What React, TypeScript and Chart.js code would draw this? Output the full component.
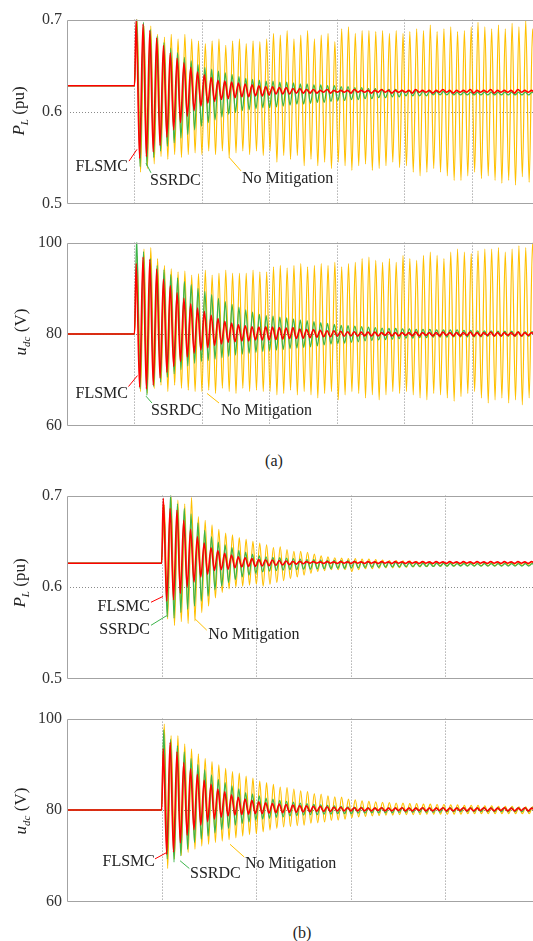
import React, { useEffect, useRef } from "react";
import { Chart, registerables } from "chart.js";

Chart.register(...registerables);

// ---------- time base ----------
const STEP_TIME = 1; // disturbance instant (grid units)
const A_PERIOD = 0.101; // oscillation period, case (a)
const B_PERIOD = 0.0721; // oscillation period, case (b)
const A_X_MAX = 6.904;
const B_X_MAX = 4.926;
const A_GRID_X = [1, 2, 3, 4, 5, 6];
const B_GRID_X = [1, 2, 3, 4];

// phase lag of each response (fraction of one period)
const RED_LAG = 0;
const GREEN_LAG = 0.07;
const YELLOW_LAG = 0.14;

// ---------- axis ticks ----------
const PL_TICKS = [0.5, 0.6, 0.7];
const UDC_TICKS = [60, 80, 100];

// ---------- pre-disturbance values ----------
const A_PL_BEFORE = 0.628;
const B_PL_BEFORE = 0.626;
const UDC_BEFORE = 80;

// ---------- (a) P_L : peaks / troughs of each oscillation cycle ----------
const aPlRedPeaks = [
  0.700, 0.695, 0.688, 0.680, 0.672, 0.664, 0.658, 0.653, 0.648, 0.643,
  0.640, 0.637, 0.634, 0.633, 0.632, 0.631, 0.630, 0.629, 0.628, 0.627,
  0.627, 0.626, 0.626, 0.625, 0.625, 0.624, 0.624, 0.623, 0.624, 0.623,
  0.623, 0.623, 0.624, 0.623, 0.623, 0.623, 0.624, 0.623, 0.623, 0.623,
  0.623, 0.624, 0.623, 0.623, 0.623, 0.624, 0.623, 0.623, 0.623, 0.624,
  0.623, 0.623, 0.624, 0.623, 0.623, 0.623, 0.624, 0.623, 0.623,
];
const aPlRedTroughs = [
  0.549, 0.551, 0.556, 0.563, 0.572, 0.580, 0.588, 0.595, 0.601, 0.606,
  0.609, 0.611, 0.613, 0.614, 0.615, 0.616, 0.616, 0.617, 0.617, 0.618,
  0.619, 0.619, 0.619, 0.620, 0.620, 0.620, 0.620, 0.621, 0.620, 0.621,
  0.621, 0.620, 0.621, 0.621, 0.620, 0.621, 0.621, 0.620, 0.621, 0.621,
  0.620, 0.621, 0.621, 0.620, 0.621, 0.621, 0.620, 0.621, 0.621, 0.620,
  0.621, 0.621, 0.620, 0.621, 0.621, 0.620, 0.621, 0.621, 0.620,
];
const aPlGreenPeaks = [
  0.703, 0.697, 0.689, 0.682, 0.675, 0.669, 0.664, 0.659, 0.655, 0.651,
  0.648, 0.646, 0.644, 0.642, 0.640, 0.638, 0.636, 0.635, 0.634, 0.633,
  0.633, 0.632, 0.632, 0.631, 0.630, 0.630, 0.629, 0.629, 0.628, 0.628,
  0.627, 0.627, 0.626, 0.626, 0.625, 0.625, 0.624, 0.624, 0.624, 0.623,
  0.623, 0.623, 0.622, 0.622, 0.622, 0.622, 0.622, 0.621, 0.621, 0.621,
  0.621, 0.621, 0.621, 0.621, 0.621, 0.621, 0.621, 0.621, 0.621,
];
const aPlGreenTroughs = [
  0.540, 0.541, 0.550, 0.557, 0.562, 0.566, 0.571, 0.575, 0.580, 0.584,
  0.588, 0.591, 0.594, 0.597, 0.599, 0.601, 0.602, 0.603, 0.604, 0.604,
  0.605, 0.606, 0.607, 0.608, 0.608, 0.609, 0.610, 0.610, 0.611, 0.612,
  0.612, 0.613, 0.613, 0.614, 0.614, 0.615, 0.615, 0.616, 0.616, 0.617,
  0.617, 0.617, 0.617, 0.618, 0.618, 0.618, 0.618, 0.618, 0.618, 0.618,
  0.618, 0.618, 0.618, 0.618, 0.618, 0.618, 0.618, 0.618, 0.618,
];
const aPlYellowPeaks = [
  0.700, 0.693, 0.693, 0.684, 0.681, 0.684, 0.679, 0.684, 0.679, 0.677,
  0.674, 0.677, 0.679, 0.672, 0.677, 0.679, 0.674, 0.677, 0.676, 0.679,
  0.685, 0.683, 0.688, 0.679, 0.683, 0.688, 0.679, 0.683, 0.685, 0.676,
  0.690, 0.692, 0.685, 0.688, 0.688, 0.687, 0.688, 0.685, 0.688, 0.685,
  0.687, 0.690, 0.688, 0.694, 0.687, 0.690, 0.692, 0.687, 0.688, 0.692,
  0.697, 0.692, 0.690, 0.694, 0.690, 0.696, 0.692, 0.699, 0.690,
];
const aPlYellowTroughs = [
  0.534, 0.538, 0.543, 0.551, 0.548, 0.553, 0.550, 0.553, 0.555, 0.553,
  0.557, 0.553, 0.557, 0.550, 0.555, 0.557, 0.553, 0.557, 0.552, 0.557,
  0.545, 0.552, 0.548, 0.552, 0.541, 0.548, 0.541, 0.545, 0.538, 0.545,
  0.541, 0.536, 0.541, 0.543, 0.536, 0.538, 0.541, 0.545, 0.539, 0.541,
  0.534, 0.530, 0.534, 0.538, 0.534, 0.530, 0.525, 0.525, 0.530, 0.534,
  0.527, 0.530, 0.525, 0.522, 0.525, 0.520, 0.529, 0.523, 0.527,
];

// ---------- (a) u_dc ----------
const aUdRedPeaks = [
  95.4, 96.8, 96.3, 94.2, 92.0, 90.6, 89.0, 87.8, 86.6, 85.7,
  84.9, 84.1, 83.4, 82.8, 82.4, 82.0, 81.8, 81.6, 81.5, 81.6,
  81.5, 81.4, 81.3, 81.4, 81.1, 81.0, 81.0, 80.8, 80.7, 80.7,
  80.6, 80.5, 80.5, 80.4, 80.4, 80.4, 80.3, 80.4, 80.3, 80.3,
  80.3, 80.4, 80.3, 80.3, 80.3, 80.4, 80.3, 80.3, 80.3, 80.4,
  80.3, 80.3, 80.4, 80.3, 80.3, 80.3, 80.4, 80.3, 80.3,
];
const aUdRedTroughs = [
  68.4, 68.0, 68.8, 70.4, 71.6, 72.9, 74.0, 75.0, 75.8, 76.5,
  77.0, 77.5, 77.8, 78.2, 78.3, 78.5, 78.5, 78.7, 78.7, 78.7,
  78.8, 78.9, 79.0, 79.0, 79.1, 79.2, 79.3, 79.4, 79.4, 79.5,
  79.5, 79.6, 79.5, 79.6, 79.6, 79.6, 79.7, 79.6, 79.6, 79.7,
  79.6, 79.6, 79.7, 79.6, 79.6, 79.7, 79.6, 79.6, 79.7, 79.6,
  79.6, 79.7, 79.6, 79.6, 79.7, 79.6, 79.6, 79.7, 79.6,
];
const aUdGreenPeaks = [
  101.0, 98.0, 96.5, 95.0, 94.0, 93.0, 92.3, 91.5, 90.8, 90.0,
  89.3, 88.6, 87.8, 87.1, 86.5, 85.9, 85.3, 84.8, 84.3, 84.0,
  83.9, 83.7, 83.5, 83.3, 83.1, 82.9, 82.7, 82.5, 82.3, 82.1,
  81.9, 81.8, 81.7, 81.6, 81.5, 81.4, 81.3, 81.2, 81.2, 81.1,
  81.1, 81.0, 81.0, 81.0, 80.9, 80.9, 80.9, 80.9, 80.8, 80.8,
  80.7, 80.7, 80.7, 80.6, 80.6, 80.6, 80.5, 80.5, 80.5,
];
const aUdGreenTroughs = [
  68.0, 66.6, 68.5, 69.5, 70.5, 71.3, 72.2, 73.0, 73.6, 74.0,
  74.2, 74.5, 74.8, 75.1, 75.4, 75.6, 75.8, 76.0, 76.2, 76.4,
  76.5, 76.6, 76.8, 76.9, 77.0, 77.2, 77.4, 77.6, 77.8, 77.9,
  78.0, 78.2, 78.3, 78.5, 78.6, 78.7, 78.8, 78.9, 79.0, 79.1,
  79.1, 79.2, 79.2, 79.3, 79.3, 79.3, 79.4, 79.4, 79.4, 79.4,
  79.4, 79.5, 79.5, 79.5, 79.5, 79.5, 79.5, 79.5, 79.5,
];
const aUdYellowPeaks = [
  97.0, 98.6, 98.9, 96.5, 95.0, 94.3, 93.6, 93.8, 92.9, 93.2,
  94.0, 92.9, 93.3, 94.0, 93.3, 93.3, 93.3, 94.0, 93.6, 93.6,
  94.7, 95.0, 94.5, 95.0, 95.4, 94.7, 95.0, 95.4, 95.0, 95.7,
  94.7, 95.4, 95.7, 96.5, 96.8, 96.1, 95.7, 96.5, 95.7, 97.2,
  96.5, 96.1, 97.2, 97.9, 97.2, 96.5, 97.9, 98.6, 97.9, 97.6,
  98.2, 98.6, 98.6, 98.9, 97.9, 98.6, 99.3, 98.9, 100.0,
];
const aUdYellowTroughs = [
  67.4, 67.0, 68.1, 68.8, 67.4, 68.8, 68.1, 67.7, 67.4, 67.4,
  67.7, 67.0, 68.1, 67.4, 67.0, 68.1, 67.4, 67.7, 67.4, 67.4,
  66.7, 67.0, 67.7, 66.7, 67.4, 66.7, 66.0, 67.0, 67.4, 65.6,
  66.7, 67.4, 67.0, 66.0, 66.7, 65.6, 66.7, 67.4, 67.0, 67.4,
  66.7, 66.0, 65.6, 67.0, 66.7, 66.0, 65.3, 66.3, 67.0, 67.4,
  66.0, 64.9, 65.6, 66.0, 64.9, 65.6, 64.5, 66.0, 65.3,
];

// ---------- (b) P_L ----------
const bPlRedPeaks = [
  0.697, 0.686, 0.684, 0.673, 0.663, 0.655, 0.648, 0.643, 0.640, 0.637,
  0.635, 0.633, 0.632, 0.631, 0.630, 0.6298, 0.6295, 0.629, 0.6285, 0.628,
  0.628, 0.6278, 0.6278, 0.6275, 0.6278, 0.6275, 0.6278, 0.6275, 0.6278, 0.6275,
  0.6278, 0.6275, 0.6278, 0.6275, 0.6278, 0.6275, 0.6278, 0.6275, 0.6278, 0.6275,
  0.6278, 0.6275, 0.6278, 0.6275, 0.6278, 0.6275, 0.6278, 0.6275, 0.6278, 0.6275,
  0.6278, 0.6275, 0.6278, 0.6275, 0.6278,
];
const bPlRedTroughs = [
  0.5845, 0.586, 0.593, 0.600, 0.6055, 0.611, 0.614, 0.618, 0.619, 0.6195,
  0.621, 0.622, 0.6225, 0.6225, 0.623, 0.6232, 0.6235, 0.624, 0.6245, 0.625,
  0.6255, 0.626, 0.626, 0.6258, 0.626, 0.6258, 0.626, 0.6258, 0.626, 0.6258,
  0.626, 0.6258, 0.626, 0.6258, 0.626, 0.6258, 0.626, 0.6258, 0.626, 0.6258,
  0.626, 0.6258, 0.626, 0.6258, 0.626, 0.6258, 0.626, 0.6258, 0.626, 0.6258,
  0.626, 0.6258, 0.626, 0.6258, 0.626,
];
const bPlGreenPeaks = [
  0.690, 0.702, 0.691, 0.686, 0.680, 0.670, 0.662, 0.655, 0.649, 0.646,
  0.643, 0.640, 0.638, 0.636, 0.634, 0.633, 0.6325, 0.632, 0.6315, 0.631,
  0.6305, 0.630, 0.6298, 0.6295, 0.629, 0.629, 0.6288, 0.6287, 0.6285, 0.628,
  0.628, 0.6278, 0.6275, 0.6272, 0.627, 0.6268, 0.6265, 0.6262, 0.626, 0.626,
  0.626, 0.6258, 0.6258, 0.6256, 0.6256, 0.6255, 0.6255, 0.6255, 0.6255, 0.6255,
  0.6255, 0.6255, 0.6255, 0.6255, 0.6255,
];
const bPlGreenTroughs = [
  0.567, 0.566, 0.572, 0.5755, 0.579, 0.5845, 0.590, 0.597, 0.601, 0.605,
  0.608, 0.611, 0.613, 0.615, 0.6165, 0.6175, 0.618, 0.6185, 0.619, 0.619,
  0.6195, 0.6195, 0.6198, 0.620, 0.6202, 0.6205, 0.6205, 0.621, 0.621, 0.6212,
  0.6215, 0.6215, 0.6218, 0.622, 0.622, 0.6222, 0.6222, 0.6225, 0.6225, 0.6225,
  0.6228, 0.6228, 0.6228, 0.623, 0.623, 0.623, 0.623, 0.623, 0.623, 0.623,
  0.623, 0.623, 0.623, 0.623, 0.623,
];
const bPlYellowPeaks = [
  0.690, 0.700, 0.695, 0.691, 0.698, 0.677, 0.673, 0.668, 0.663, 0.659,
  0.657, 0.654, 0.652, 0.650, 0.648, 0.646, 0.643, 0.644, 0.641, 0.639,
  0.639, 0.638, 0.636, 0.634, 0.633, 0.632, 0.6315, 0.631, 0.631, 0.6305,
  0.6305, 0.630, 0.6295, 0.629, 0.629, 0.6285, 0.6285, 0.628, 0.628, 0.6275,
  0.6275, 0.627, 0.627, 0.627, 0.627, 0.6268, 0.6268, 0.6265, 0.6265, 0.6265,
  0.6265, 0.6265, 0.6265, 0.6265, 0.6265,
];
const bPlYellowTroughs = [
  0.565, 0.558, 0.562, 0.560, 0.563, 0.572, 0.579, 0.588, 0.594, 0.598,
  0.600, 0.601, 0.602, 0.603, 0.601, 0.603, 0.605, 0.607, 0.609, 0.611,
  0.613, 0.615, 0.617, 0.618, 0.619, 0.619, 0.619, 0.617, 0.619, 0.620,
  0.620, 0.6205, 0.621, 0.621, 0.6212, 0.6215, 0.622, 0.622, 0.6222, 0.6225,
  0.6225, 0.6228, 0.6228, 0.623, 0.623, 0.623, 0.623, 0.6232, 0.6232, 0.6232,
  0.6235, 0.6235, 0.6235, 0.6235, 0.6235,
];

// ---------- (b) u_dc ----------
const bUdRedPeaks = [
  93.4, 94.8, 92.7, 90.4, 89.0, 87.8, 86.5, 85.6, 84.6, 84.0,
  83.3, 82.8, 82.4, 82.1, 81.8, 81.6, 81.4, 81.3, 81.2, 81.1,
  81.0, 80.9, 80.8, 80.8, 80.7, 80.6, 80.6, 80.5, 80.5, 80.5,
  80.4, 80.4, 80.5, 80.4, 80.4, 80.5, 80.4, 80.4, 80.5, 80.4,
  80.4, 80.5, 80.4, 80.4, 80.5, 80.4, 80.4, 80.5, 80.4, 80.4,
  80.5, 80.4, 80.4, 80.5, 80.4,
];
const bUdRedTroughs = [
  70.3, 70.8, 72.8, 74.5, 75.7, 76.7, 77.5, 78.0, 78.4, 78.7,
  78.9, 79.0, 79.1, 79.2, 79.2, 79.3, 79.4, 79.4, 79.5, 79.5,
  79.6, 79.6, 79.7, 79.7, 79.7, 79.8, 79.8, 79.8, 79.8, 79.8,
  79.8, 79.9, 79.8, 79.8, 79.9, 79.8, 79.8, 79.9, 79.8, 79.8,
  79.9, 79.8, 79.8, 79.9, 79.8, 79.8, 79.9, 79.8, 79.8, 79.9,
  79.8, 79.8, 79.9, 79.8, 79.8,
];
const bUdGreenPeaks = [
  97.5, 95.5, 94.1, 92.7, 91.3, 89.9, 88.8, 87.7, 86.7, 86.0,
  85.3, 84.6, 83.8, 83.5, 83.1, 82.6, 82.4, 82.1, 81.9, 81.7,
  81.5, 81.4, 81.2, 81.1, 81.0, 80.9, 80.8, 80.7, 80.6, 80.6,
  80.5, 80.5, 80.5, 80.5, 80.5, 80.5, 80.5, 80.5, 80.5, 80.5,
  80.5, 80.5, 80.5, 80.5, 80.5, 80.5, 80.5, 80.5, 80.5, 80.5,
  80.5, 80.5, 80.5, 80.5, 80.5,
];
const bUdGreenTroughs = [
  69.3, 68.6, 70.0, 71.4, 72.9, 73.6, 74.3, 75.0, 75.7, 76.0,
  76.7, 77.1, 77.4, 77.8, 78.0, 78.2, 78.4, 78.5, 78.7, 78.8,
  78.9, 79.0, 79.0, 79.1, 79.1, 79.2, 79.2, 79.2, 79.3, 79.3,
  79.4, 79.4, 79.4, 79.4, 79.5, 79.5, 79.5, 79.5, 79.5, 79.5,
  79.5, 79.6, 79.6, 79.6, 79.6, 79.6, 79.6, 79.6, 79.6, 79.6,
  79.6, 79.6, 79.6, 79.6, 79.6,
];
const bUdYellowPeaks = [
  98.8, 96.3, 96.3, 94.5, 93.4, 92.3, 91.3, 90.6, 89.9, 89.1,
  88.4, 88.1, 87.4, 87.0, 86.3, 86.0, 85.6, 85.0, 84.9, 84.6,
  84.2, 84.0, 83.6, 83.5, 83.1, 82.9, 82.8, 82.4, 82.2, 82.0,
  81.9, 81.8, 81.7, 81.6, 81.5, 81.5, 81.4, 81.4, 81.3, 81.3,
  81.2, 81.2, 81.1, 81.1, 81.0, 81.0, 81.0, 80.9, 80.9, 80.8,
  80.8, 80.8, 80.7, 80.7, 80.7,
];
const bUdYellowTroughs = [
  67.2, 69.3, 70.0, 70.7, 71.4, 72.1, 72.5, 72.9, 73.2, 73.5,
  73.9, 74.3, 74.6, 74.8, 75.2, 75.6, 76.0, 76.3, 76.4, 76.6,
  76.7, 77.1, 77.2, 77.4, 77.7, 77.8, 78.0, 78.3, 78.5, 78.6,
  78.7, 78.8, 78.9, 78.9, 79.0, 79.0, 79.0, 79.0, 79.1, 79.1,
  79.1, 79.1, 79.1, 79.1, 79.2, 79.2, 79.2, 79.2, 79.2, 79.2,
  79.2, 79.2, 79.2, 79.2, 79.2,
];

// ---------- styling ----------
const FONT = '"Liberation Serif", "Times New Roman", Times, serif';
const RED = "#ff0000";
const GREEN = "#3cb44a";
const YELLOW = "#ffc000";
const AXIS_W = 67;
const PAD = 12;
const CANVAS_W = 533;

type Pt = { x: number; y: number };

function buildPoints(pre: number, peaks: number[], troughs: number[], period: number, lag: number): Pt[] {
  const pts: Pt[] = [
    { x: 0, y: pre },
    { x: STEP_TIME, y: pre },
  ];
  const n = Math.min(peaks.length, troughs.length);
  for (let k = 0; k < n; k++) {
    pts.push({ x: STEP_TIME + period * (k + 0.25 + lag), y: peaks[k] });
    pts.push({ x: STEP_TIME + period * (k + 0.75 + lag), y: troughs[k] });
  }
  return pts;
}

type SeriesSpec = {
  label: string;
  color: string;
  width: number;
  order: number;
  lag: number;
  pre: number;
  peaks: number[];
  troughs: number[];
};

type Callout = {
  text: string;
  color: string;
  align: "left" | "right";
  x: number;
  y: number;
  fromX: number;
  fromY: number;
  toX: number;
  toY: number;
};

type PanelSpec = {
  areaTop: number;
  areaBottom: number;
  xMax: number;
  period: number;
  gridX: number[];
  yMin: number;
  yMax: number;
  yTicks: number[];
  decimals: number;
  midY: number;
  series: SeriesSpec[];
  callouts: Callout[];
};

function makeFramePlugin(gridX: number[], midY: number) {
  return {
    id: "frame",
    beforeDatasetsDraw(chart: any) {
      const { ctx, chartArea: a, scales } = chart;
      ctx.save();
      ctx.strokeStyle = "#8a8a8a";
      ctx.lineWidth = 1;
      ctx.setLineDash([1, 2]);
      for (const gx of gridX) {
        const px = Math.round(scales.x.getPixelForValue(gx)) + 0.5;
        ctx.beginPath();
        ctx.moveTo(px, a.top);
        ctx.lineTo(px, a.bottom);
        ctx.stroke();
      }
      const py = Math.round(scales.y.getPixelForValue(midY)) + 0.5;
      ctx.beginPath();
      ctx.moveTo(a.left, py);
      ctx.lineTo(a.right, py);
      ctx.stroke();
      ctx.restore();
    },
    afterDatasetsDraw(chart: any) {
      const { ctx, chartArea: a } = chart;
      ctx.save();
      ctx.strokeStyle = "#a3a3a3";
      ctx.lineWidth = 1;
      ctx.setLineDash([]);
      const l = Math.round(a.left) + 0.5;
      const t = Math.round(a.top) + 0.5;
      const b = Math.round(a.bottom) + 0.5;
      ctx.beginPath();
      ctx.moveTo(a.right, t);
      ctx.lineTo(l, t);
      ctx.lineTo(l, b);
      ctx.lineTo(a.right, b);
      ctx.stroke();
      ctx.restore();
    },
  };
}

function makeCalloutPlugin(items: Callout[]) {
  return {
    id: "callouts",
    afterDatasetsDraw(chart: any) {
      const { ctx, scales } = chart;
      ctx.save();
      for (const it of items) {
        ctx.strokeStyle = it.color;
        ctx.lineWidth = 1;
        ctx.beginPath();
        ctx.moveTo(scales.x.getPixelForValue(it.fromX), scales.y.getPixelForValue(it.fromY));
        ctx.lineTo(scales.x.getPixelForValue(it.toX), scales.y.getPixelForValue(it.toY));
        ctx.stroke();
        ctx.fillStyle = "#222";
        ctx.font = `16px ${FONT}`;
        ctx.textAlign = it.align;
        ctx.textBaseline = "middle";
        ctx.fillText(it.text, scales.x.getPixelForValue(it.x), scales.y.getPixelForValue(it.y));
      }
      ctx.restore();
    },
  };
}

function Panel({ spec }: { spec: PanelSpec }) {
  const ref = useRef<HTMLCanvasElement | null>(null);
  const height = spec.areaBottom - spec.areaTop + 2 * PAD;
  useEffect(() => {
    if (!ref.current) return;
    const chart = new Chart(ref.current, {
      type: "line",
      data: {
        datasets: spec.series.map((s) => ({
          label: s.label,
          data: buildPoints(s.pre, s.peaks, s.troughs, spec.period, s.lag),
          borderColor: s.color,
          backgroundColor: s.color,
          borderWidth: s.width,
          pointRadius: 0,
          fill: false,
          cubicInterpolationMode: "monotone",
          order: s.order,
          clip: 0,
        })),
      },
      options: {
        responsive: false,
        animation: false,
        devicePixelRatio: 1,
        events: [],
        layout: { padding: { top: PAD, bottom: PAD, left: 0, right: 0 } },
        plugins: { legend: { display: false }, tooltip: { enabled: false } },
        scales: {
          x: { type: "linear", min: 0, max: spec.xMax, display: false },
          y: {
            type: "linear",
            min: spec.yMin,
            max: spec.yMax,
            afterBuildTicks: (sc: any) => {
              sc.ticks = spec.yTicks.map((v) => ({ value: v }));
            },
            afterFit: (sc: any) => {
              sc.width = AXIS_W;
            },
            grid: { display: false, drawTicks: false },
            border: { display: false },
            ticks: {
              color: "#333",
              padding: 5,
              font: { family: FONT, size: 16 },
              callback: (v: any) => Number(v).toFixed(spec.decimals),
            },
          },
        },
      } as any,
      plugins: [makeFramePlugin(spec.gridX, spec.midY), makeCalloutPlugin(spec.callouts)],
    });
    return () => chart.destroy();
  }, []);
  return (
    <canvas
      ref={ref}
      width={CANVAS_W}
      height={height}
      style={{ position: "absolute", left: 0, top: spec.areaTop - PAD, width: CANVAS_W, height }}
    />
  );
}

function seriesSet(pre: number, red: number[][], green: number[][], yellow: number[][]): SeriesSpec[] {
  return [
    { label: "No Mitigation", color: YELLOW, width: 1.2, order: 3, lag: YELLOW_LAG, pre, peaks: yellow[0], troughs: yellow[1] },
    { label: "SSRDC", color: GREEN, width: 1.3, order: 2, lag: GREEN_LAG, pre, peaks: green[0], troughs: green[1] },
    { label: "FLSMC", color: RED, width: 1.6, order: 1, lag: RED_LAG, pre, peaks: red[0], troughs: red[1] },
  ];
}

const PANELS: PanelSpec[] = [
  {
    areaTop: 17, areaBottom: 206, xMax: A_X_MAX, period: A_PERIOD, gridX: A_GRID_X,
    yMin: 0.5, yMax: 0.7, yTicks: PL_TICKS, decimals: 1, midY: 0.6,
    series: seriesSet(A_PL_BEFORE, [aPlRedPeaks, aPlRedTroughs], [aPlGreenPeaks, aPlGreenTroughs], [aPlYellowPeaks, aPlYellowTroughs]),
    callouts: [
      { text: "FLSMC", color: RED, align: "right", x: 0.904, y: 0.5397, fromX: 0.919, fromY: 0.546, toX: 1.037, toY: 0.5588 },
      { text: "SSRDC", color: GREEN, align: "left", x: 1.23, y: 0.5248, fromX: 1.244, fromY: 0.5333, toX: 1.17, toY: 0.5439 },
      { text: "No Mitigation", color: YELLOW, align: "left", x: 2.593, y: 0.527, fromX: 2.578, fromY: 0.5354, toX: 2.4, toY: 0.5503 },
    ],
  },
  {
    areaTop: 240, areaBottom: 428, xMax: A_X_MAX, period: A_PERIOD, gridX: A_GRID_X,
    yMin: 60, yMax: 100, yTicks: UDC_TICKS, decimals: 0, midY: 80,
    series: seriesSet(UDC_BEFORE, [aUdRedPeaks, aUdRedTroughs], [aUdGreenPeaks, aUdGreenTroughs], [aUdYellowPeaks, aUdYellowTroughs]),
    callouts: [
      { text: "FLSMC", color: RED, align: "right", x: 0.904, y: 67.0, fromX: 0.911, fromY: 68.5, toX: 1.044, toY: 70.9 },
      { text: "SSRDC", color: GREEN, align: "left", x: 1.244, y: 63.1, fromX: 1.259, fromY: 64.9, toX: 1.17, toY: 66.4 },
      { text: "No Mitigation", color: YELLOW, align: "left", x: 2.281, y: 63.1, fromX: 2.252, fromY: 64.9, toX: 2.074, toY: 67.0 },
    ],
  },
  {
    areaTop: 493, areaBottom: 681, xMax: B_X_MAX, period: B_PERIOD, gridX: B_GRID_X,
    yMin: 0.5, yMax: 0.7, yTicks: PL_TICKS, decimals: 1, midY: 0.6,
    series: seriesSet(B_PL_BEFORE, [bPlRedPeaks, bPlRedTroughs], [bPlGreenPeaks, bPlGreenTroughs], [bPlYellowPeaks, bPlYellowTroughs]),
    callouts: [
      { text: "FLSMC", color: RED, align: "right", x: 0.877, y: 0.578, fromX: 0.888, fromY: 0.5833, toX: 1.015, toY: 0.5897 },
      { text: "SSRDC", color: GREEN, align: "right", x: 0.877, y: 0.5528, fromX: 0.888, fromY: 0.5581, toX: 1.054, toY: 0.5687 },
      { text: "No Mitigation", color: YELLOW, align: "left", x: 1.494, y: 0.5474, fromX: 1.477, fromY: 0.5528, toX: 1.353, toY: 0.5652 },
    ],
  },
  {
    areaTop: 716, areaBottom: 904, xMax: B_X_MAX, period: B_PERIOD, gridX: B_GRID_X,
    yMin: 60, yMax: 100, yTicks: UDC_TICKS, decimals: 0, midY: 80,
    series: seriesSet(UDC_BEFORE, [bUdRedPeaks, bUdRedTroughs], [bUdGreenPeaks, bUdGreenTroughs], [bUdYellowPeaks, bUdYellowTroughs]),
    callouts: [
      { text: "FLSMC", color: RED, align: "right", x: 0.93, y: 68.6, fromX: 0.93, fromY: 69.3, toX: 1.054, toY: 70.7 },
      { text: "SSRDC", color: GREEN, align: "left", x: 1.3, y: 66.1, fromX: 1.293, fromY: 67.2, toX: 1.195, toY: 68.9 },
      { text: "No Mitigation", color: YELLOW, align: "left", x: 1.882, y: 68.2, fromX: 1.874, fromY: 69.7, toX: 1.723, toY: 72.5 },
    ],
  },
];

function AxisTitle({ cx, cy, children }: { cx: number; cy: number; children: React.ReactNode }) {
  return (
    <div
      style={{
        position: "absolute",
        left: cx,
        top: cy,
        transform: "translate(-50%, -50%) rotate(-90deg)",
        whiteSpace: "nowrap",
        font: `17px ${FONT}`,
        color: "#222",
        lineHeight: 1,
      }}
    >
      {children}
    </div>
  );
}

const subStyle: React.CSSProperties = { fontSize: 11, fontStyle: "italic", position: "relative", top: 4 };

function PLTitle() {
  return (
    <>
      <i>P</i>
      <span style={subStyle}>L</span> (pu)
    </>
  );
}
function UdcTitle() {
  return (
    <>
      <i>u</i>
      <span style={subStyle}>dc</span> (V)
    </>
  );
}

function Caption({ cx, cy, text }: { cx: number; cy: number; text: string }) {
  return (
    <div
      style={{
        position: "absolute",
        left: cx,
        top: cy,
        transform: "translate(-50%, -50%)",
        font: `16px ${FONT}`,
        color: "#222",
        lineHeight: 1,
        whiteSpace: "nowrap",
      }}
    >
      {text}
    </div>
  );
}

export default function App() {
  return (
    <div
      style={{
        position: "absolute",
        left: 0,
        top: 0,
        width: 533,
        height: 941,
        overflow: "hidden",
        background: "#fff",
      }}
    >
      {PANELS.map((p, i) => (
        <Panel key={i} spec={p} />
      ))}
      <AxisTitle cx={18} cy={111}><PLTitle /></AxisTitle>
      <AxisTitle cx={20} cy={332}><UdcTitle /></AxisTitle>
      <AxisTitle cx={19} cy={583}><PLTitle /></AxisTitle>
      <AxisTitle cx={20} cy={811}><UdcTitle /></AxisTitle>
      <Caption cx={274} cy={461} text="(a)" />
      <Caption cx={302} cy={933} text="(b)" />
    </div>
  );
}
